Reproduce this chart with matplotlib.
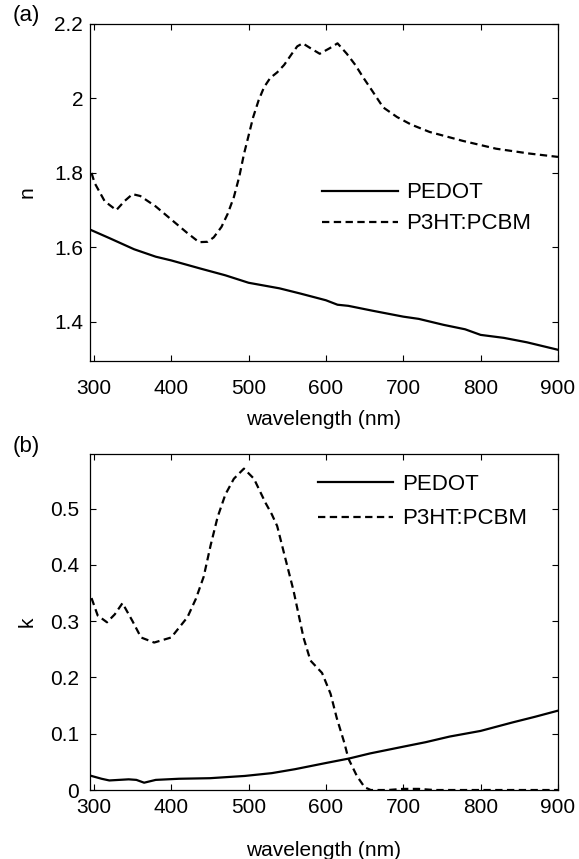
import numpy as np
import matplotlib
matplotlib.use('Agg')
import matplotlib.pyplot as plt
from matplotlib.ticker import FormatStrFormatter

plt.rcParams['font.family'] = ['Liberation Sans', 'DejaVu Sans']

# (a) refractive index n
wl_n_pedot = [297, 320, 352, 380, 400, 438, 470, 500, 540, 567, 600, 615, 629, 660,
              700, 720, 752, 780, 800, 830, 860, 900]
n_pedot = [1.646, 1.625, 1.595, 1.575, 1.565, 1.543, 1.525, 1.505, 1.49, 1.476, 1.458,
           1.446, 1.443, 1.43, 1.414, 1.408, 1.392, 1.38, 1.365, 1.357, 1.345, 1.325]

wl_n_p3ht = [297, 301, 314, 329, 340, 350, 360, 380, 400, 420, 436, 447, 455, 465, 473,
             481, 488, 494, 500, 506, 513, 520, 528, 537, 546, 556, 563, 570, 580, 592,
             605, 615, 627, 638, 648, 660, 674, 692, 710, 734, 777, 820, 863, 900]
n_p3ht = [1.80, 1.773, 1.724, 1.700, 1.725, 1.743, 1.738, 1.71, 1.675, 1.64, 1.614, 1.615,
          1.627, 1.655, 1.69, 1.735, 1.79, 1.85, 1.90, 1.95, 1.995, 2.03, 2.055, 2.07,
          2.09, 2.12, 2.14, 2.148, 2.135, 2.12, 2.135, 2.148, 2.12, 2.09, 2.057, 2.02,
          1.976, 1.95, 1.93, 1.91, 1.886, 1.865, 1.852, 1.843]

# (b) extinction coefficient k
wl_k_pedot = [297, 310, 320, 345, 355, 365, 380, 410, 450, 495, 530, 560, 600, 630, 657,
              700, 729, 760, 800, 841, 870, 900]
k_pedot = [0.025, 0.02, 0.017, 0.019, 0.018, 0.013, 0.018, 0.02, 0.021, 0.025, 0.03, 0.037,
           0.048, 0.056, 0.065, 0.077, 0.085, 0.095, 0.105, 0.12, 0.13, 0.141]

wl_k_p3ht = [297, 305, 317, 327, 337, 350, 361, 378, 400, 421, 432, 442, 451, 460, 470,
             481, 494, 507, 515, 522, 530, 537, 548, 558, 571, 580, 595, 606, 614, 624,
             629, 640, 650, 658, 680, 700, 720, 740, 760, 800, 850, 900]
k_p3ht = [0.341, 0.31, 0.298, 0.312, 0.332, 0.30, 0.271, 0.262, 0.271, 0.307, 0.34, 0.379,
          0.435, 0.485, 0.525, 0.553, 0.571, 0.553, 0.53, 0.51, 0.49, 0.469, 0.409, 0.355,
          0.271, 0.23, 0.208, 0.171, 0.128, 0.083, 0.056, 0.025, 0.005, 0.0, 0.0, 0.002,
          0.002, 0.0, 0.0, 0.0, 0.0, 0.0]

labels = ['PEDOT', 'P3HT:PCBM']
dash = (0, (3.3, 2.0))
fs = 15

fig = plt.figure(figsize=(5.79, 8.59), dpi=100)
ax1 = fig.add_axes([0.1554, 0.5798, 0.8083, 0.3923])
ax2 = fig.add_axes([0.1554, 0.0803, 0.8083, 0.3912])


def style(ax, xpad, ypad):
    ax.set_xlim(295, 900)
    ax.set_xticks([300, 400, 500, 600, 700, 800, 900])
    ax.tick_params(direction='in', top=True, right=True, length=4, width=0.8,
                   labelsize=fs)
    ax.tick_params(axis='x', pad=xpad)
    ax.tick_params(axis='y', pad=ypad)
    ax.yaxis.set_major_formatter(FormatStrFormatter('%g'))
    for s in ax.spines.values():
        s.set_linewidth(0.9)
    ax.set_xlabel('wavelength (nm)', fontsize=fs)
    ax.xaxis.label.set_va('center')


ax1.plot(wl_n_pedot, n_pedot, 'k-', lw=1.6, label=labels[0])
ax1.plot(wl_n_p3ht, n_p3ht, color='k', ls=dash, lw=1.6, label=labels[1])
style(ax1, 13, 5)
ax1.set_ylim(1.295, 2.2)
ax1.set_yticks([1.4, 1.6, 1.8, 2.0, 2.2])
ax1.set_ylabel('n', fontsize=fs)
ax1.yaxis.set_label_coords(-0.115, 0.5)
ax1.xaxis.set_label_coords(0.5, -0.175)
ax1.legend(loc='upper left', bbox_to_anchor=(0.496, 0.53), frameon=False,
           borderpad=0, borderaxespad=0, handlelength=3.4, handletextpad=0.4,
           labelspacing=0.45, fontsize=16)

ax2.plot(wl_k_pedot, k_pedot, 'k-', lw=1.6, label=labels[0])
ax2.plot(wl_k_p3ht, k_p3ht, color='k', ls=dash, lw=1.6, label=labels[1])
style(ax2, 6, 8)
ax2.set_ylim(0, 0.597)
ax2.set_yticks([0, 0.1, 0.2, 0.3, 0.4, 0.5])
ax2.set_ylabel('k', fontsize=fs)
ax2.yaxis.set_label_coords(-0.115, 0.5)
ax2.xaxis.set_label_coords(0.5, -0.18)
ax2.legend(loc='upper left', bbox_to_anchor=(0.487, 0.94), frameon=False,
           borderpad=0, borderaxespad=0, handlelength=3.4, handletextpad=0.4,
           labelspacing=0.6, fontsize=16)

fig.text(0.022, 1 - 15 / 859, '(a)', fontsize=16, va='center', ha='left')
fig.text(0.022, 1 - 447 / 859, '(b)', fontsize=16, va='center', ha='left')

fig.savefig('out.png', dpi=100)
